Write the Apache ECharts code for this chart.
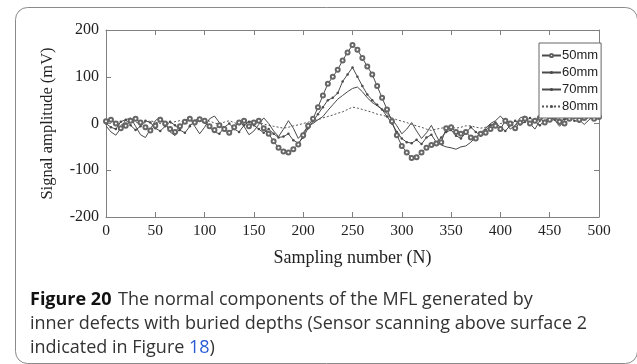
<!DOCTYPE html>
<html>
<head>
<meta charset="utf-8">
<script src="https://cdn.jsdelivr.net/npm/echarts@6/dist/echarts.min.js"></script>
<style>
html,body{margin:0;padding:0;background:#fff;}
#c{width:637px;height:364px;}
</style>
</head>
<body>
<div id="c"></div>
<script>
// sample positions 0,5,...,500
const xStep = 5;
const seriesNames = ['50mm', '60mm', '70mm', '80mm'];
const xTicks = [0, 50, 100, 150, 200, 250, 300, 350, 400, 450, 500];
const yTicks = [-200, -100, 0, 100, 200];

const s50 = [5,8,0,-10,-5,6,10,2,-8,-15,-5,8,0,-12,-18,-6,4,10,2,9,
  6,-6,-14,-4,-12,-20,-8,2,6,-6,2,6,-10,-22,-38,-52,-60,-62,-55,-45,
  -25,-5,10,35,60,85,100,115,135,152,168,158,140,122,105,80,55,30,5,-25,
  -48,-62,-74,-72,-62,-52,-46,-43,-40,-10,-8,-18,-22,-18,-30,-32,-22,-20,-12,-5,
  -12,6,0,-10,2,10,0,6,12,2,8,14,4,0,10,16,8,12,18,10,14];
const s60 = [0,-8,-12,4,8,-4,-14,-6,6,2,-10,-16,-6,4,-4,-14,-20,-6,6,12,
  2,-8,-18,-22,-8,0,-12,-18,-4,4,-4,-12,-20,-12,-22,-30,-28,-22,-36,-42,
  -30,-10,5,20,35,50,55,65,90,105,120,100,80,62,50,40,30,15,0,-18,
  -32,-40,-42,-35,-44,-30,-24,-40,-30,-18,-14,-26,-32,-20,-8,-18,-26,-14,-4,2,
  -8,-16,-4,6,-2,4,12,4,-4,6,12,8,0,10,16,6,4,12,20,10,16];
const s70 = [-5,-18,-25,-10,8,12,-6,-24,-30,-12,6,14,0,-18,-26,-10,6,12,-6,-22,
  -8,10,16,2,-14,-24,-8,6,-6,-24,-16,-2,12,0,-16,-28,-12,6,-10,-32,
  -20,-5,0,8,15,28,40,52,60,68,75,78,68,55,45,38,30,22,10,-5,
  -22,-12,2,-16,-32,-20,-4,-26,-46,-50,-52,-55,-50,-48,-40,-30,-20,-10,0,6,
  16,4,-12,-4,12,16,0,-12,6,16,22,8,-6,6,20,18,8,-2,8,16,10];
const s80 = [2,4,0,-3,2,6,3,-1,2,6,3,0,-4,0,4,6,2,-3,0,6,
  8,5,1,-1,3,6,2,-3,0,4,6,2,-1,-4,-6,-8,-10,-8,-5,-3,
  0,3,5,8,12,15,18,22,25,30,35,33,30,27,24,20,18,15,12,8,
  5,2,-2,-5,-8,-12,-15,-12,-10,-8,-8,-10,-8,-5,-5,-8,-10,-8,-5,-2,
  0,2,0,-2,0,2,5,8,5,3,5,8,10,8,10,12,15,12,10,12,15];

function pairs(arr){ return arr.map((v,i)=>[i*xStep, v]); }

const chart = echarts.init(document.getElementById('c'), null, {renderer:'canvas'});
const lineCol = '#4a4a4a';
const axisCol = '#808080';
const serif = '"Liberation Serif","Times New Roman",serif';
const sans = '"Open Sans","Noto Sans",sans-serif';

const option = {
  animation: false,
  backgroundColor: '#fff',
  grid: {left: 106, right: 38, top: 30, bottom: 147, containLabel: false},
  legend: {
    data: seriesNames,
    orient: 'vertical',
    left: 539, top: 43, z: 20,
    backgroundColor: '#fff',
    borderColor: '#666', borderWidth: 1,
    padding: [6, 3, 5, 2],
    itemWidth: 19, itemHeight: 4, itemGap: 4,
    textStyle: {fontFamily: '"Liberation Sans",Arial,sans-serif', fontSize: 13, color: '#222', padding: [0,0,0,-4]}
  },
  xAxis: [{
    type: 'value', min: 0, max: 500, interval: 50, position: 'bottom',
    name: 'Sampling number (N)', nameLocation: 'middle', nameGap: 32,
    nameTextStyle: {fontFamily: serif, fontSize: 18, color: '#222'},
    axisLine: {onZero: false, lineStyle: {color: axisCol, width: 1}},
    axisTick: {inside: true, length: 5, lineStyle: {color: axisCol}},
    axisLabel: {fontFamily: serif, fontSize: 15.5, color: '#222', margin: 6},
    splitLine: {show: false}
  }, {
    type: 'value', min: 0, max: 500, interval: 50, position: 'top',
    axisLine: {onZero: false, lineStyle: {color: axisCol, width: 1}},
    axisTick: {inside: true, length: 5, lineStyle: {color: axisCol}},
    axisLabel: {show: false}, splitLine: {show: false}
  }],
  yAxis: [{
    type: 'value', min: -200, max: 200, interval: 100, position: 'left',
    name: 'Signal amplitude (mV)', nameLocation: 'middle', nameGap: 50,
    nameTextStyle: {fontFamily: serif, fontSize: 16.5, color: '#222'},
    axisLine: {show: true, onZero: false, lineStyle: {color: axisCol, width: 1}},
    axisTick: {show: true, inside: true, length: 5, lineStyle: {color: axisCol}},
    axisLabel: {fontFamily: serif, fontSize: 16, color: '#222', margin: 7},
    splitLine: {show: false}
  }, {
    type: 'value', min: -200, max: 200, interval: 100, position: 'right',
    axisLine: {show: true, onZero: false, lineStyle: {color: axisCol, width: 1}},
    axisTick: {show: true, inside: true, length: 5, lineStyle: {color: axisCol}},
    axisLabel: {show: false}, splitLine: {show: false}
  }],
  series: [
    {name: '50mm', type: 'line', data: pairs(s50), symbol: 'emptyCircle', symbolSize: 4,
     showAllSymbol: true, lineStyle: {color: lineCol, width: 1}, itemStyle: {color: '#666', borderWidth: 0.7}, z: 5},
    {name: '60mm', type: 'line', data: pairs(s60), symbol: 'circle', symbolSize: 2.5,
     showAllSymbol: true, lineStyle: {color: lineCol, width: 1}, itemStyle: {color: lineCol}, z: 4},
    {name: '70mm', type: 'line', data: pairs(s70), symbol: 'none',
     lineStyle: {color: lineCol, width: 1}, itemStyle: {color: lineCol}, z: 3},
    {name: '80mm', type: 'line', data: pairs(s80), symbol: 'none',
     lineStyle: {color: '#555', width: 1, type: [2, 2]}, itemStyle: {color: '#555'}, z: 2}
  ],
  graphic: [
    {type: 'rect', left: 13, top: 5, shape: {width: 622, height: 356, r: 12}, silent: true, z: -10,
     style: {fill: 'none', stroke: '#8a8a8a', lineWidth: 1}},
    {type: 'text', left: 30, top: 291, z: 10, style: {
      text: '{b|Figure 20}  {n|The normal components of the MFL generated by}',
      rich: {b: {fontFamily: sans, fontSize: 18, fontWeight: 'bold', fill: '#111'},
             n: {fontFamily: sans, fontSize: 18, fill: '#333'}}}},
    {type: 'text', left: 30, top: 315, z: 10, style: {
      text: 'inner defects with buried depths (Sensor scanning above surface 2',
      font: '18px ' + sans, fill: '#333'}},
    {type: 'text', left: 30, top: 339, z: 10, style: {
      text: '{n|indicated in Figure }{l|18}{n|)}',
      rich: {n: {fontFamily: sans, fontSize: 18, fill: '#333'},
             l: {fontFamily: sans, fontSize: 18, fill: '#2a5bd7'}}}}
  ]
};
chart.setOption(option);
</script>
</body>
</html>
